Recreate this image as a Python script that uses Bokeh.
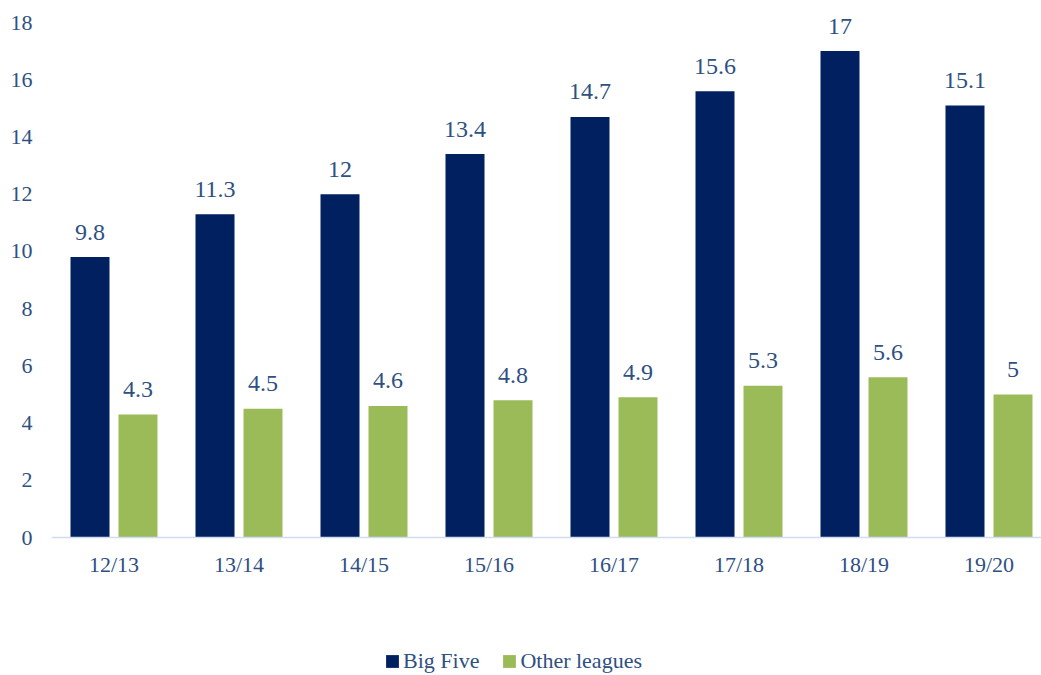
import numpy as np
from bokeh.plotting import figure
from bokeh.models import ColumnDataSource, FixedTicker, Legend, LegendItem, Range1d
from bokeh.core.properties import value
from bokeh.embed import file_html
from bokeh.resources import INLINE

seasons = ["12/13", "13/14", "14/15", "15/16", "16/17", "17/18", "18/19", "19/20"]
big_five = [9.8, 11.3, 12, 13.4, 14.7, 15.6, 17, 15.1]
other_leagues = [4.3, 4.5, 4.6, 4.8, 4.9, 5.3, 5.6, 5]
y_ticks = [0, 2, 4, 6, 8, 10, 12, 14, 16, 18]

NAVY = "#002060"
GREEN = "#9BBB59"
TEXT = "#2E5082"
FONT = "'Liberation Serif'"

idx = np.arange(len(seasons))
off = 0.192
bw = 0.312

# frame spans the full height: value 0 sits 138 px above the bottom edge,
# value 18 sits 22 px below the top edge
px_per_unit = 515 / 18
y_bottom = -138 / px_per_unit
y_top = 18 + 22 / px_per_unit

src_big = ColumnDataSource(dict(x=idx - off, top=big_five,
                                lab=[f"{v:g}" for v in big_five]))
src_oth = ColumnDataSource(dict(x=idx + off, top=other_leagues,
                                lab=[f"{v:g}" for v in other_leagues]))

p = figure(width=1041, height=675, output_backend="svg", toolbar_location=None,
           x_range=Range1d(-0.5, 7.42), y_range=Range1d(y_bottom, y_top),
           min_border_left=51, min_border_right=0, min_border_top=0,
           min_border_bottom=0)
p.outline_line_color = None
p.xgrid.grid_line_color = None
p.ygrid.grid_line_color = None
p.background_fill_color = "white"
p.border_fill_color = "white"

r1 = p.vbar(x="x", top="top", bottom=0, width=bw, source=src_big, fill_color=NAVY, line_color=None)
r2 = p.vbar(x="x", top="top", bottom=0, width=bw, source=src_oth, fill_color=GREEN, line_color=None)

for s in (src_big, src_oth):
    p.text(x="x", y="top", text="lab", source=s, text_align="center",
           text_baseline="alphabetic", y_offset=-25,
           text_font=value(FONT), text_font_size="24px", text_color=TEXT)

xa = p.xaxis[0]
xa.fixed_location = 0
xa.ticker = FixedTicker(ticks=list(idx))
xa.major_label_overrides = {int(i): s for i, s in zip(idx, seasons)}
xa.axis_line_color = "#D0DCEF"
xa.axis_line_width = 1.5
xa.major_tick_line_color = None
xa.minor_tick_line_color = None
xa.major_tick_out = 0
xa.major_tick_in = 0
xa.major_label_standoff = 14
xa.major_label_text_font = FONT
xa.major_label_text_font_size = "22px"
xa.major_label_text_color = TEXT

ya = p.yaxis[0]
ya.ticker = FixedTicker(ticks=y_ticks)
ya.axis_line_color = None
ya.major_tick_line_color = None
ya.minor_tick_line_color = None
ya.major_tick_out = 0
ya.major_tick_in = 0
ya.major_label_standoff = 19
ya.major_label_text_font = FONT
ya.major_label_text_font_size = "22px"
ya.major_label_text_color = TEXT

legend = Legend(items=[LegendItem(label="Big Five", renderers=[r1]),
                       LegendItem(label="Other leagues", renderers=[r2])],
                location=(333, 1), orientation="horizontal",
                background_fill_alpha=0, border_line_color=None,
                padding=0, margin=0, spacing=22, glyph_width=16, glyph_height=16,
                label_standoff=3, label_text_font=FONT,
                label_text_font_size="22px", label_text_color=TEXT)
p.add_layout(legend, "center")

open("out.html", "w").write(file_html(p, INLINE))
